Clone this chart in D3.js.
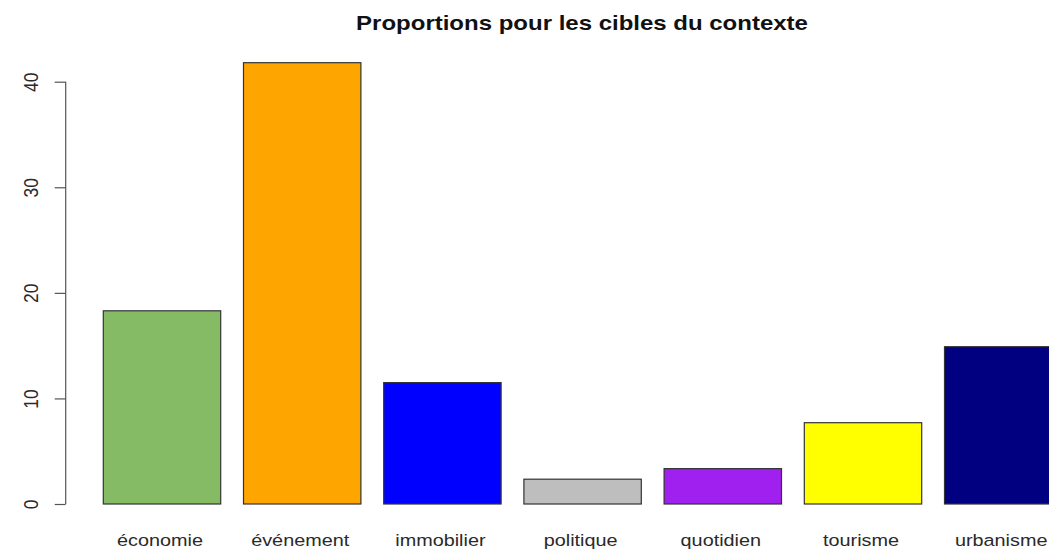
<!DOCTYPE html>
<html>
<head>
<meta charset="utf-8">
<script src="https://cdn.jsdelivr.net/npm/d3@7"></script>
<style>
  body { margin: 0; background: #fff; }
  svg { display: block; font-family: "Liberation Sans", Arial, sans-serif; }
</style>
</head>
<body>
<svg id="chart"></svg>
<script>
// cibles du contexte
const categories = ["économie", "événement", "immobilier", "politique", "quotidien", "tourisme", "urbanisme"];
const proportions = [18.3, 41.8, 11.5, 2.35, 3.35, 7.7, 14.9];
const barColors = ["#86BB65", "#FFA500", "#0000FF", "#BEBEBE", "#A020F0", "#FFFF00", "#000080"];
const yTicks = [0, 10, 20, 30, 40];

const width = 1049;
const height = 550;
const stretch = 1.2;       // the picture's text is a bit wider than tall
const labelStretch = 1.18;

const svg = d3.select("#chart")
    .attr("width", width)
    .attr("height", height);

// R barplot style: bars of width 1, space 0.2
const step = 140.2;
const innerPad = 1 - 117.4 / step;
const x = d3.scaleBand()
    .domain(categories)
    .range([103.3, 103.3 + step * (categories.length - innerPad)])
    .paddingInner(innerPad)
    .paddingOuter(0)
    .align(0);

const y = d3.scaleLinear()
    .domain([0, 40])
    .range([504, 81.7]);

// title
svg.append("text")
    .attr("transform", `translate(582,30) scale(${stretch},1)`)
    .attr("text-anchor", "middle")
    .style("font-weight", "bold")
    .style("font-size", "20px")
    .style("fill", "#111")
    .text("Proportions pour les cibles du contexte");

// bars
svg.append("g")
    .selectAll("rect")
    .data(proportions)
    .join("rect")
        .attr("x", (d, i) => x(categories[i]))
        .attr("y", d => y(d))
        .attr("width", x.bandwidth())
        .attr("height", d => y(0) - y(d))
        .style("fill", (d, i) => barColors[i])
        .style("stroke", "#333")
        .style("stroke-width", 1.2);

// category labels under the bars
svg.append("g")
    .selectAll("text")
    .data(categories)
    .join("text")
        .attr("transform", d => `translate(${x(d) + x.bandwidth() / 2 - 2},546) scale(${labelStretch},1)`)
        .attr("text-anchor", "middle")
        .style("font-size", "16.8px")
        .style("fill", "#2a2a2a")
        .text(d => d);

// y axis
const yAxis = d3.axisLeft(y)
    .tickValues(yTicks)
    .tickSize(11)
    .tickPadding(0)
    .tickFormat(d3.format("d"));

const gy = svg.append("g")
    .attr("transform", "translate(65.7,0)")
    .call(yAxis);

gy.select(".domain")
    .attr("d", `M0,${y(0)}V${y(40)}`)
    .style("stroke", "#555")
    .style("stroke-width", 1.2);

gy.selectAll(".tick line")
    .style("stroke", "#555")
    .style("stroke-width", 1.2);

gy.selectAll(".tick text")
    .attr("x", 0)
    .attr("y", 0)
    .attr("dy", 0)
    .attr("text-anchor", "middle")
    .attr("transform", `translate(-27.4,0) scale(${stretch},1) rotate(-90)`)
    .style("font-size", "17.5px")
    .style("font-family", "'Liberation Sans', Arial, sans-serif")
    .style("fill", "#2a2a2a");
</script>
</body>
</html>
